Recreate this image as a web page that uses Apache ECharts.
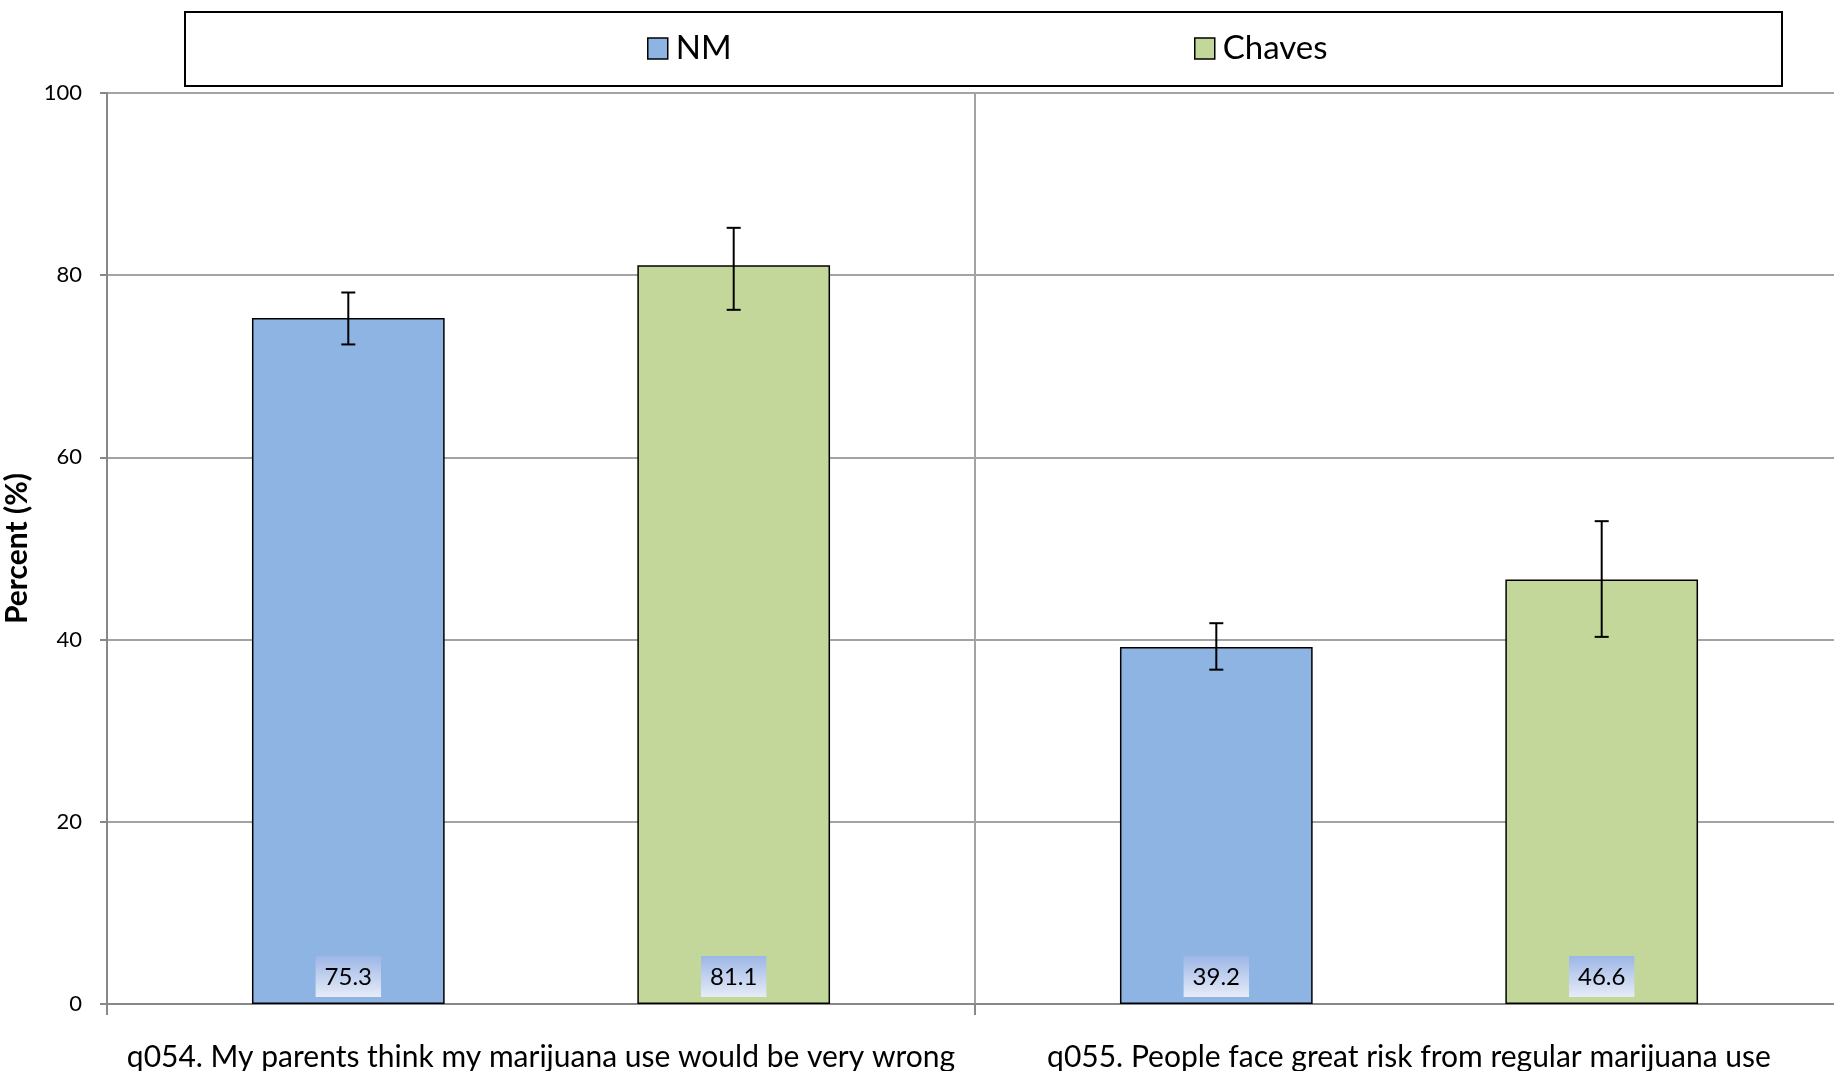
<!DOCTYPE html>
<html><head><meta charset="utf-8">
<script src="https://cdn.jsdelivr.net/npm/echarts@6/dist/echarts.min.js"></script>
<style>html,body{margin:0;padding:0;background:#fff}#c{width:1834px;height:1071px}</style>
</head><body><div id="c"></div>
<script>
const categories = ['q054. My parents think my marijuana use would be very wrong', 'q055. People face great risk from regular marijuana use'];
const seriesNames = ['NM', 'Chaves'];
const nmValues = [75.3, 39.2];
const chavesValues = [81.1, 46.6];
const nmLow = [72.4, 36.7];
const nmHigh = [78.1, 41.8];
const chavesLow = [76.2, 40.3];
const chavesHigh = [85.2, 53.0];
const yMin = 0, yMax = 100, yInterval = 20;

const FONT = 'Lato';
const BAR_FRAC = 0.222;
const GRID_GRAY = '#a3a3a3';
const AXIS_GRAY = '#888888';
const colors = ['#8EB4E3', '#C4D79B'];

function errRender(offsetFrac) {
  return function (params, api) {
    const x = api.value(0);
    const lo = api.coord([x, api.value(1)]);
    const hi = api.coord([x, api.value(2)]);
    const bw = api.size([1, 0])[0];
    const cx = lo[0] + bw * offsetFrac;
    const cap = 7;
    const style = { stroke: '#000', lineWidth: 2 };
    return { type: 'group', children: [
      { type: 'line', shape: { x1: cx, y1: hi[1], x2: cx, y2: lo[1] }, style },
      { type: 'line', shape: { x1: cx - cap, y1: hi[1], x2: cx + cap, y2: hi[1] }, style },
      { type: 'line', shape: { x1: cx - cap, y1: lo[1], x2: cx + cap, y2: lo[1] }, style }
    ]};
  };
}

const labelBg = new echarts.graphic.LinearGradient(0, 0, 0, 1, [
  { offset: 0, color: '#9db6e6' }, { offset: 1, color: '#e6ecf8' }
]);
function barLabel() {
  return {
    show: true, position: 'insideBottom', distance: 7,
    formatter: p => p.value.toFixed(1),
    fontFamily: FONT, fontSize: 24, lineHeight: 24, color: '#000',
    backgroundColor: labelBg, padding: [9, 9, 8, 9]
  };
}

function legendCfg(name, left) {
  return { data: [name], left: left, top: 32, padding: 0, itemWidth: 20, itemHeight: 21, itemGap: 6,
    icon: 'rect', itemStyle: { borderColor: '#000', borderWidth: 1.5 },
    textStyle: { fontFamily: FONT, fontSize: 33, color: '#000', padding: [0, 0, 0, 3] } };
}

const chart = echarts.init(document.getElementById('c'));
chart.setOption({
  animation: false,
  backgroundColor: '#fff',
  graphic: [{
    type: 'rect', left: 184, top: 11, shape: { width: 1597, height: 74 },
    style: { fill: '#fff', stroke: '#000', lineWidth: 2 }, z: -1
  }],
  legend: [legendCfg(seriesNames[0], 647), legendCfg(seriesNames[1], 1194)],
  grid: { left: 107, top: 93, width: 1736, height: 911, outerBoundsMode: 'none', containLabel: false },
  xAxis: {
    type: 'category', data: categories,
    axisLine: { show: true, lineStyle: { color: AXIS_GRAY, width: 2 } },
    axisTick: { show: true, length: 11, alignWithLabel: false, interval: 0, lineStyle: { color: AXIS_GRAY, width: 2 } },
    splitLine: { show: true, interval: 0, lineStyle: { color: GRID_GRAY, width: 2 } },
    axisLabel: { interval: 0, margin: 38, color: '#000', fontFamily: FONT, fontSize: 30 }
  },
  yAxis: {
    type: 'value', min: yMin, max: yMax, interval: yInterval,
    name: 'Percent (%)', nameLocation: 'middle', nameGap: 64,
    nameTextStyle: { fontFamily: FONT, fontSize: 30, fontWeight: 'bold', color: '#000' },
    axisLine: { show: true, lineStyle: { color: AXIS_GRAY, width: 2 } },
    axisTick: { show: true, length: 7, lineStyle: { color: AXIS_GRAY, width: 2 } },
    splitLine: { show: true, lineStyle: { color: GRID_GRAY, width: 2 } },
    axisLabel: { margin: 25, color: '#000', fontFamily: FONT, fontSize: 22 }
  },
  series: [
    { name: seriesNames[0], type: 'bar', data: nmValues, barWidth: (BAR_FRAC * 100) + '%', barGap: '100%',
      itemStyle: { color: colors[0], borderColor: '#000', borderWidth: 1.5 }, label: barLabel() },
    { name: seriesNames[1], type: 'bar', data: chavesValues, barWidth: (BAR_FRAC * 100) + '%', barGap: '100%',
      itemStyle: { color: colors[1], borderColor: '#000', borderWidth: 1.5 }, label: barLabel() },
    { type: 'custom', name: 'NM err', renderItem: errRender(-BAR_FRAC),
      data: categories.map((c, i) => [i, nmLow[i], nmHigh[i]]), encode: { x: 0, y: [1, 2] }, z: 5 },
    { type: 'custom', name: 'Chaves err', renderItem: errRender(BAR_FRAC),
      data: categories.map((c, i) => [i, chavesLow[i], chavesHigh[i]]), encode: { x: 0, y: [1, 2] }, z: 5 }
  ]
});
</script></body></html>
